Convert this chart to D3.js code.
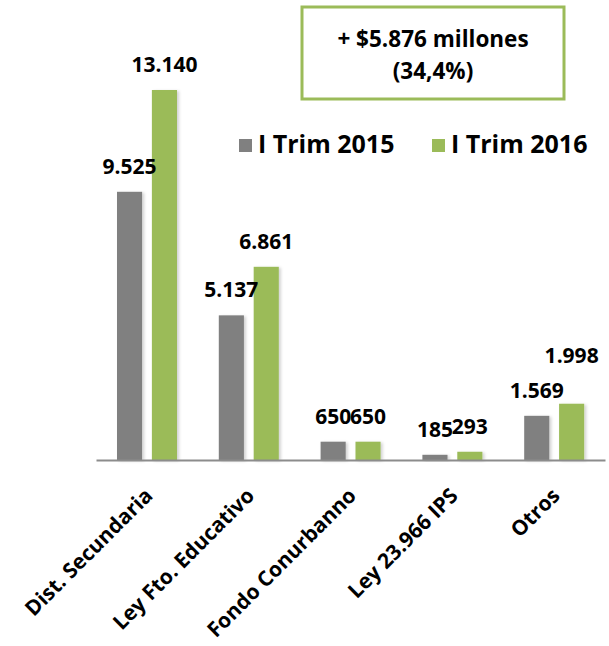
<!DOCTYPE html>
<html>
<head>
<meta charset="utf-8">
<script src="https://cdn.jsdelivr.net/npm/d3@7"></script>
<style>
  body { margin: 0; background: #fff; }
  text { font-family: "Open Sans", Lato, sans-serif; font-weight: bold; fill: #000; }
</style>
</head>
<body>
<div id="chart"></div>
<script>
// data
var categories = ["Dist. Secundaria", "Ley Fto. Educativo", "Fondo Conurbanno", "Ley 23.966 IPS", "Otros"];
var series = ["I Trim 2015", "I Trim 2016"];
var values2015 = [9525, 5137, 650, 185, 1569];
var values2016 = [13140, 6861, 650, 293, 1998];
var colors = ["#808080", "#9bbb59"];
var boxLines = ["+ $5.876 millones", "(34,4%)"];

var width = 609, height = 646;
var fmt = d3.formatLocale({ decimal: ",", thousands: ".", grouping: [3] }).format(",");

var svg = d3.select("#chart").append("svg")
  .attr("width", width)
  .attr("height", height);

// soft shadow like the office chart
var defs = svg.append("defs");
var f = defs.append("filter").attr("id", "shadow")
  .attr("x", "-20%").attr("y", "-20%").attr("width", "150%").attr("height", "150%");
f.append("feDropShadow")
  .attr("dx", 2).attr("dy", 1)
  .attr("stdDeviation", 1.5)
  .attr("flood-color", "#000")
  .attr("flood-opacity", 0.18);

var rows = categories.map(function(c, i) {
  return { cat: c, vals: [values2015[i], values2016[i]] };
});

// scales
var x0 = d3.scaleBand()
  .domain(categories)
  .range([96, 605]);

var x1 = d3.scaleBand()
  .domain(d3.range(series.length))
  .range([21, 81])
  .paddingInner(0.28);

var y = d3.scaleLinear()
  .domain([0, d3.max(values2016)])
  .range([460, 90]);

// bars
var groups = svg.selectAll(".cat")
  .data(rows)
  .enter().append("g")
  .attr("class", "cat")
  .attr("transform", function(d) { return "translate(" + x0(d.cat) + ",0)"; });

groups.selectAll("rect")
  .data(function(d) { return d.vals; })
  .enter().append("rect")
  .attr("x", function(d, i) { return x1(i); })
  .attr("width", x1.bandwidth())
  .attr("y", function(d) { return y(d); })
  .attr("height", function(d) { return y(0) - y(d); })
  .attr("fill", function(d, i) { return colors[i]; })
  .attr("filter", "url(#shadow)");

// value labels
groups.selectAll(".val")
  .data(function(d) { return d.vals; })
  .enter().append("text")
  .attr("class", "val")
  .attr("text-anchor", "middle")
  .attr("x", function(d, i) { return x1(i) + x1.bandwidth() / 2; })
  .attr("y", function(d) { return y(d) - 18; })
  .style("font-size", "21px")
  .text(function(d) { return fmt(d); });

// push the second label up when it sits on top of the first one
groups.each(function() {
  var t = d3.select(this).selectAll(".val").nodes();
  var a = t[0].getBBox(), b = t[1].getBBox();
  var overlapX = a.x + a.width - b.x;
  var overlapY = Math.min(a.y + a.height, b.y + b.height) - Math.max(a.y, b.y);
  if (overlapX > 8 && overlapY > 0) {
    var yA = +d3.select(t[0]).attr("y");
    d3.select(t[1]).attr("y", yA - 35);
  }
});

// axis
var xAxis = d3.axisBottom(x0).tickSize(0).tickSizeOuter(0).tickFormat("");
var axisG = svg.append("g")
  .attr("transform", "translate(0," + y(0) + ")")
  .call(xAxis);
axisG.select(".domain").attr("stroke", "#8c8c8c").attr("stroke-width", 2);

// rotated category labels
svg.selectAll(".cat-label")
  .data(categories)
  .enter().append("text")
  .attr("class", "cat-label")
  .attr("text-anchor", "end")
  .style("font-size", "21px")
  .attr("transform", function(d) {
    var cx = x0(d) + x0.bandwidth() / 2 + 7;
    return "translate(" + cx + ",497) rotate(-45)";
  })
  .text(function(d) { return d; });

// legend
var legend = svg.append("g").attr("class", "legend");
var legendX = [239, 432];
series.forEach(function(s, i) {
  legend.append("rect")
    .attr("x", legendX[i]).attr("y", 139)
    .attr("width", 13).attr("height", 13)
    .attr("fill", colors[i]);
  legend.append("text")
    .attr("x", legendX[i] + 19).attr("y", 153)
    .style("font-size", "25px")
    .text(s);
});

// annotation box
svg.append("rect")
  .attr("x", 302).attr("y", 7)
  .attr("width", 262).attr("height", 92)
  .attr("fill", "#fff")
  .attr("stroke", "#9bbb59")
  .attr("stroke-width", 3);

svg.selectAll(".box-line")
  .data(boxLines)
  .enter().append("text")
  .attr("class", "box-line")
  .attr("text-anchor", "middle")
  .attr("x", 433)
  .attr("y", function(d, i) { return 47 + i * 32; })
  .style("font-size", "22.5px")
  .text(function(d) { return d; });
</script>
</body>
</html>
